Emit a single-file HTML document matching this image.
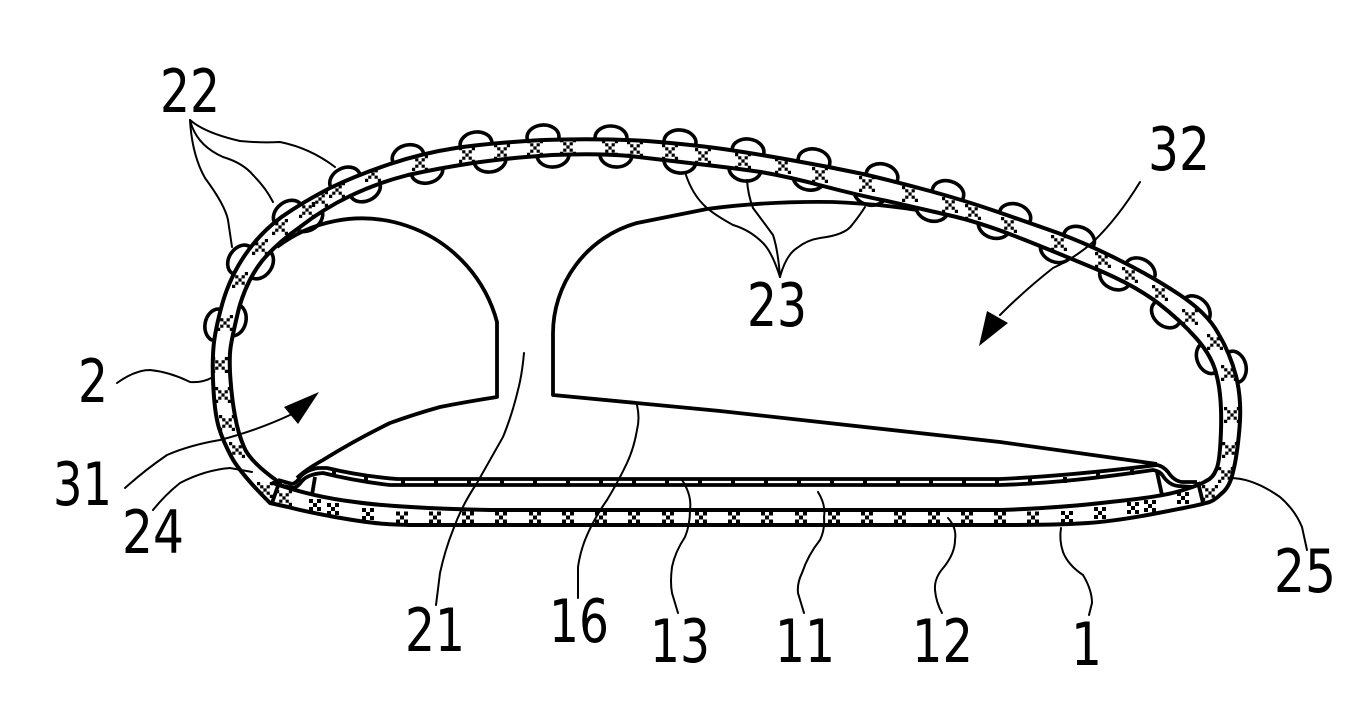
<!DOCTYPE html>
<html>
<head>
<meta charset="utf-8">
<style>
html,body{margin:0;padding:0;background:#fff;}
svg{display:block;}
text{font-family:"DejaVu Sans","Liberation Sans",sans-serif;font-size:60px;fill:#000;}
.l{fill:none;stroke:#000;stroke-width:2;stroke-linecap:round;}
.m{fill:none;stroke:#000;stroke-width:3.8;stroke-linejoin:round;}
ellipse{fill:#fff;stroke:#000;stroke-width:3.6;}
</style>
</head>
<body>
<svg width="1367" height="721" viewBox="0 0 1367 721" xmlns="http://www.w3.org/2000/svg">
<defs>
<path id="x" d="M-2-2h4v4h-4z M-6-6h4v4h-4z M2-6h4v4h-4z M-6 2h4v4h-4z M2 2h4v4h-4z" fill="#000"/>
<path id="y" d="M-1.6-1.6h3.2v3.2h-3.2z M-4.8-4.8h3.2v3.2h-3.2z M1.6-4.8h3.2v3.2h-3.2z M-4.8 1.6h3.2v3.2h-3.2z M1.6 1.6h3.2v3.2h-3.2z M-8-8h3.2v3.2h-3.2z M4.8-8h3.2v3.2h-3.2z M-8 4.8h3.2v3.2h-3.2z M4.8 4.8h3.2v3.2h-3.2z" fill="#000"/>
<path id="bp" d="M270,503 Q240,473 231.5,457 Q223,441 219,428 Q215,415 213.5,390 Q212,365 213.5,347 Q215,330 222.5,303 Q230,277 245,255 Q260,233 281.5,217 Q303,202 330,188 Q357,175 390,164 Q423,153 456,148 Q490,143 543,140 Q597,138 647,141 Q697,145 730,150 Q763,155 796,161 Q830,167 863,174 Q897,182 930,191 Q963,200 995,211 Q1027,222 1058,233 Q1090,245 1121,261 Q1153,277 1180,295 Q1207,313 1218,333 Q1230,353 1236,376 Q1242,400 1239.5,428 Q1237,457 1233,472 Q1230,487 1221,494 Q1213,502 1206,503 Q1200,505 1158,513 Q1117,521 1088,523 Q1060,525 1000,525 L420,525 Q397,525 380,523.5 Q363,522 335,517 Q307,512 288,507 L270,503 Z M280,483 Q250,462 244,447 Q238,433 235,416 Q232,400 230.5,380 Q229,360 230.5,348 Q232,337 239,308 Q247,280 262,261 Q277,243 300,227 Q323,209 350,196 Q377,183 408,175 Q440,168 473,163 Q507,158 552,155 Q597,153 630,156 Q663,160 698,164 Q733,168 761,172 Q790,177 823,186 Q857,195 887,201 Q917,208 948,215 Q980,222 1025,240 Q1070,258 1103,272 Q1137,287 1158,303 Q1180,320 1196,338 Q1213,357 1217,377 Q1222,397 1221,430 Q1220,463 1216,470 Q1213,478 1206,481 Q1200,485 1180,491 Q1160,497 1110,502 Q1060,508 1000,510 L490,510 Q397,508 355,502 Q313,497 273,483 Z"/>
<clipPath id="band"><use href="#bp" clip-rule="evenodd"/></clipPath>
</defs>

<!-- lobes -->
<ellipse cx="217" cy="325" rx="16" ry="12" transform="rotate(-80 217 325)"/>
<ellipse cx="234" cy="320" rx="16" ry="12" transform="rotate(-78 234 320)"/>
<ellipse cx="241" cy="260" rx="16" ry="12" transform="rotate(-57 241 260)"/>
<ellipse cx="260" cy="264" rx="16" ry="12" transform="rotate(-55 260 264)"/>
<ellipse cx="288" cy="214" rx="16" ry="12" transform="rotate(-38 288 214)"/>
<ellipse cx="308" cy="218" rx="16" ry="12" transform="rotate(-36 308 218)"/>
<ellipse cx="345" cy="180" rx="16" ry="12" transform="rotate(-27 345 180)"/>
<ellipse cx="365" cy="189" rx="16" ry="12" transform="rotate(-25 365 189)"/>
<ellipse cx="408" cy="157" rx="16" ry="12" transform="rotate(-15 408 157)"/>
<ellipse cx="427" cy="171" rx="16" ry="12" transform="rotate(-14 427 171)"/>
<ellipse cx="476" cy="144" rx="16" ry="12" transform="rotate(-8 476 144)"/>
<ellipse cx="490" cy="160" rx="16" ry="12" transform="rotate(-8 490 160)"/>
<ellipse cx="543" cy="137" rx="16" ry="12" transform="rotate(-3 543 137)"/>
<ellipse cx="553" cy="155" rx="16" ry="12" transform="rotate(-3 553 155)"/>
<ellipse cx="611" cy="138" rx="16" ry="12" transform="rotate(2 611 138)"/>
<ellipse cx="616" cy="155" rx="16" ry="12" transform="rotate(3 616 155)"/>
<ellipse cx="680" cy="142" rx="16" ry="12" transform="rotate(5 680 142)"/>
<ellipse cx="680" cy="161" rx="16" ry="12" transform="rotate(6 680 161)"/>
<ellipse cx="748" cy="151" rx="16" ry="12" transform="rotate(8 748 151)"/>
<ellipse cx="745" cy="169" rx="16" ry="12" transform="rotate(8 745 169)"/>
<ellipse cx="814" cy="161" rx="16" ry="12" transform="rotate(11 814 161)"/>
<ellipse cx="809" cy="178" rx="16" ry="12" transform="rotate(11 809 178)"/>
<ellipse cx="882" cy="176" rx="16" ry="12" transform="rotate(13 882 176)"/>
<ellipse cx="870" cy="193" rx="16" ry="12" transform="rotate(13 870 193)"/>
<ellipse cx="948" cy="193" rx="16" ry="12" transform="rotate(16 948 193)"/>
<ellipse cx="932" cy="209" rx="16" ry="12" transform="rotate(15 932 209)"/>
<ellipse cx="1015" cy="216" rx="16" ry="12" transform="rotate(18 1015 216)"/>
<ellipse cx="994" cy="226" rx="16" ry="12" transform="rotate(18 994 226)"/>
<ellipse cx="1079" cy="239" rx="16" ry="12" transform="rotate(23 1079 239)"/>
<ellipse cx="1056" cy="250" rx="16" ry="12" transform="rotate(22 1056 250)"/>
<ellipse cx="1140" cy="271" rx="16" ry="12" transform="rotate(30 1140 271)"/>
<ellipse cx="1115" cy="277" rx="16" ry="12" transform="rotate(26 1115 277)"/>
<ellipse cx="1196" cy="310" rx="16" ry="12" transform="rotate(45 1196 310)"/>
<ellipse cx="1166" cy="314" rx="16" ry="12" transform="rotate(40 1166 314)"/>
<ellipse cx="1209" cy="358" rx="16" ry="12" transform="rotate(68 1209 358)"/>
<ellipse cx="1234" cy="367" rx="16" ry="12" transform="rotate(76 1234 367)"/>

<!-- housing band fill -->
<use href="#bp" fill="#fff" fill-rule="evenodd"/>

<!-- crosses in band -->
<g clip-path="url(#band)">
<use href="#y" x="284" y="498"/><use href="#x" x="315" y="505"/><use href="#x" x="333" y="509"/><use href="#x" x="368" y="514"/>
<use href="#x" x="402" y="517.5"/><use href="#x" x="435" y="517.5"/><use href="#x" x="468" y="517.5"/><use href="#x" x="501" y="517.5"/>
<use href="#x" x="535" y="517.5"/><use href="#x" x="568" y="517.5"/><use href="#x" x="601" y="517.5"/><use href="#x" x="634" y="517.5"/>
<use href="#x" x="668" y="517.5"/><use href="#x" x="701" y="517.5"/><use href="#x" x="734" y="517.5"/><use href="#x" x="767" y="517.5"/>
<use href="#x" x="801" y="517.5"/><use href="#x" x="834" y="517.5"/><use href="#x" x="867" y="517.5"/><use href="#x" x="900" y="517.5"/>
<use href="#x" x="934" y="517.5"/><use href="#x" x="967" y="517.5"/><use href="#x" x="1000" y="517.5"/><use href="#x" x="1033" y="517.5"/>
<use href="#x" x="1067" y="517"/><use href="#x" x="1100" y="513"/><use href="#x" x="1133" y="508"/><use href="#x" x="1150" y="506"/><use href="#x" x="1183" y="498"/>
<use href="#y" x="1210" y="493"/><use href="#y" x="1226" y="475"/><use href="#y" x="1230" y="450"/><use href="#y" x="1232" y="415"/>
<use href="#y" x="265" y="490"/><use href="#y" x="237" y="450"/><use href="#y" x="227" y="423"/><use href="#y" x="223" y="395"/>
<use href="#y" x="220" y="365"/><use href="#y" x="225" y="323"/><use href="#y" x="240" y="280"/><use href="#y" x="260" y="247"/>
<use href="#y" x="280" y="227"/><use href="#y" x="307" y="210"/><use href="#y" x="320" y="199"/><use href="#y" x="337" y="190"/>
<use href="#y" x="373" y="174"/><use href="#y" x="420" y="163"/><use href="#y" x="467" y="155"/><use href="#y" x="502" y="152"/>
<use href="#y" x="535" y="148"/><use href="#y" x="568" y="147"/><use href="#y" x="610" y="148"/><use href="#y" x="635" y="149"/>
<use href="#y" x="670" y="152"/><use href="#y" x="703" y="156"/><use href="#y" x="743" y="161"/><use href="#y" x="783" y="166"/>
<use href="#y" x="820" y="175"/><use href="#y" x="867" y="184"/><use href="#y" x="910" y="194"/><use href="#y" x="950" y="205"/>
<use href="#y" x="973" y="212"/><use href="#y" x="1009" y="225"/><use href="#y" x="1059" y="243"/><use href="#y" x="1103" y="260"/>
<use href="#y" x="1130" y="275"/><use href="#y" x="1160" y="293"/><use href="#y" x="1190" y="317"/><use href="#y" x="1215" y="342"/><use href="#y" x="1229" y="373"/>
</g>

<!-- housing band outline -->
<use href="#bp" fill="none" stroke="#000" stroke-width="4" stroke-linejoin="round"/>

<!-- dividers and supports -->
<path class="m" d="M280,480 L272,503 M1198,482 L1203,503 M315,477 L312,495 M1157,472 L1162,495"/>

<!-- window 13 -->
<path fill="none" stroke="#000" stroke-width="5" stroke-dasharray="4 29" d="M401,482 L1000,482"/>
<path fill="none" stroke="#000" stroke-width="4" d="M334,470v6 M366,476v6 M1030,479v6 M1065,477v6 M1098,473v6 M1132,469v6"/>
<path class="m" d="M278,480 L292,484 Q297,483 300,477 Q306,470 318,468 L327,468 Q360,476 397,479 L1000,479 Q1067,476 1157,465 Q1163,466 1168,472 Q1174,481 1182,482 L1197,482"/>
<path class="m" d="M278,485 L293,488 Q298,487 302,481 Q308,474 323,473 Q355,481 390,485 L1000,485 Q1067,483 1153,470 Q1160,471 1163,476 Q1169,485 1178,486 L1193,487"/>

<!-- light guide -->
<path class="m" d="M297,478 Q305,470 323,460 Q355,440 390,423 Q415,414 440,407 Q465,402 497,397 L497,322 A140,140 0 0 0 277,247"/>
<path class="m" d="M1157,464 L1000,442 L720,411 L553,395 L553,335 A115,115 0 0 1 637,223 L707,209 Q767,201 833,202 Q880,204 917,210"/>

<!-- arrowheads -->
<polygon points="284,407 319,392 298,424" fill="#000"/>
<polygon points="987,311 1008,323 979,346" fill="#000"/>

<!-- leaders -->
<path class="l" d="M190,120 Q205,133 240,141 Q260,143 280,142 Q310,148 335,167"/>
<path class="l" d="M190,120 Q196,145 223,157 Q243,163 253,175 Q266,188 273,202"/>
<path class="l" d="M190,120 Q192,155 205,178 Q225,205 228,220 L232,247"/>
<path class="l" d="M780,277 Q772,252 763,243 Q750,230 733,225 Q715,215 707,208 Q692,195 685,172"/>
<path class="l" d="M780,277 Q778,250 773,235 Q762,220 753,208 Q748,195 747,180"/>
<path class="l" d="M780,277 Q786,255 797,248 Q807,240 820,238 Q845,235 852,225 Q860,215 865,207"/>
<path class="l" d="M1140,182 Q1118,218 1093,242 Q1075,258 1053,268 Q1025,290 1000,315"/>
<path class="l" d="M117,383 Q135,370 150,370 Q170,372 190,382 Q203,383 213,377"/>
<path class="l" d="M125,488 Q145,470 167,455 Q190,445 220,440 Q258,430 290,415"/>
<path class="l" d="M153,510 Q165,495 180,483 Q205,470 230,468 L252,472"/>
<path class="l" d="M524,353 Q522,375 518,390 Q512,415 503,437 Q490,460 477,483 Q462,505 453,530 Q445,550 440,573 L436,605"/>
<path class="l" d="M637,405 Q640,418 637,430 Q634,448 627,463 Q618,482 607,500 Q593,520 585,540 Q580,553 578,567 L578,598"/>
<path class="l" d="M682,480 Q692,495 690,510 Q690,525 685,537 Q675,552 672,567 Q670,582 672,593 L678,613"/>
<path class="l" d="M818,492 Q826,505 824,517 Q825,530 820,540 Q808,555 802,573 Q797,583 798,593 L804,613"/>
<path class="l" d="M948,518 Q957,528 955,540 Q955,553 944,567 Q934,578 935,590 Q936,602 942,613"/>
<path class="l" d="M1061,528 Q1059,540 1063,552 Q1068,565 1083,575 Q1092,590 1092,603 L1089,615"/>
<path class="l" d="M1230,478 Q1253,478 1280,497 Q1295,510 1302,527 L1307,550"/>

<!-- labels -->
<text x="160" y="112" textLength="60" lengthAdjust="spacingAndGlyphs">22</text>
<text x="747" y="326" textLength="60" lengthAdjust="spacingAndGlyphs">23</text>
<text x="1148" y="170" textLength="62" lengthAdjust="spacingAndGlyphs">32</text>
<text x="78" y="402" textLength="30" lengthAdjust="spacingAndGlyphs">2</text>
<text x="53" y="505" textLength="59" lengthAdjust="spacingAndGlyphs">31</text>
<text x="122" y="553" textLength="62" lengthAdjust="spacingAndGlyphs">24</text>
<text x="405" y="651" textLength="60" lengthAdjust="spacingAndGlyphs">21</text>
<text x="549" y="642" textLength="60" lengthAdjust="spacingAndGlyphs">16</text>
<text x="650" y="662" textLength="60" lengthAdjust="spacingAndGlyphs">13</text>
<text x="775" y="662" textLength="60" lengthAdjust="spacingAndGlyphs">11</text>
<text x="912" y="662" textLength="61" lengthAdjust="spacingAndGlyphs">12</text>
<text x="1071" y="665" textLength="31" lengthAdjust="spacingAndGlyphs">1</text>
<text x="1274" y="592" textLength="62" lengthAdjust="spacingAndGlyphs">25</text>
</svg>
</body>
</html>
